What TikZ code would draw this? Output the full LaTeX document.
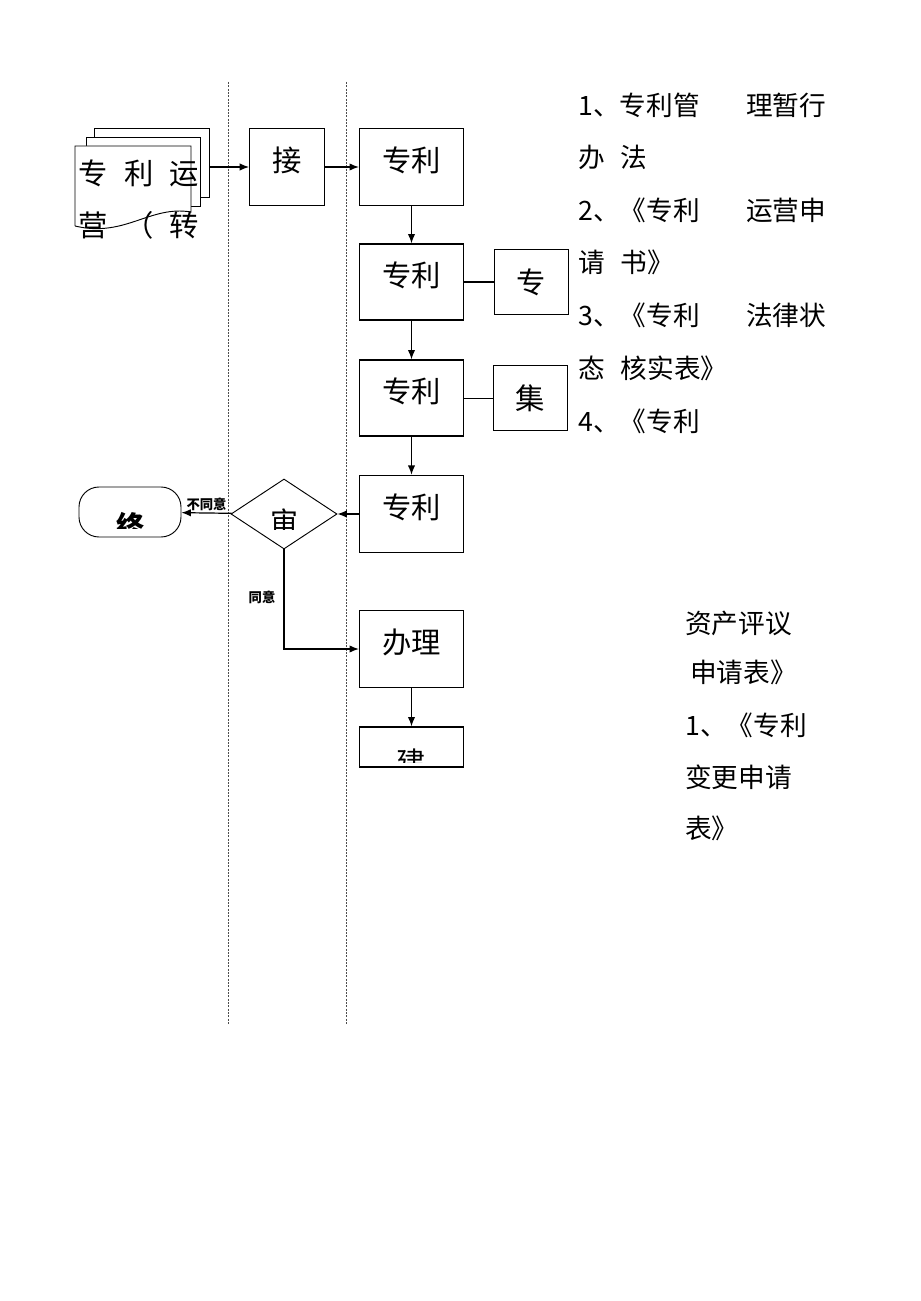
\documentclass[tikz,border=0pt]{standalone}
\usepackage{fontspec}
\newfontfamily\cjk{Noto Sans CJK SC}
\usetikzlibrary{arrows.meta}
\usetikzlibrary{shapes.geometric}

\tikzset{
  box/.style={draw, line width=0.9pt, minimum width=78pt, minimum height=58pt,
    text depth=12pt, font=\cjk\fontsize{22}{26}\selectfont},
  sidebox/.style={draw, line width=0.7pt, minimum width=56pt, minimum height=49pt,
    font=\cjk\fontsize{22}{26}\selectfont},
  note/.style={anchor=west, inner sep=0pt, font=\cjk\fontsize{20}{24}\selectfont},
  lane/.style={dash pattern=on 1.5pt off 1pt, line width=0.6pt, gray!60!black},
  sheet/.style={draw, fill=white, line width=0.7pt},
  tag/.style={font=\cjk\bfseries\fontsize{10}{12}\selectfont, inner sep=1pt},
  flow/.style={->, line width=0.9pt},
}

\begin{document}
\begin{tikzpicture}[x=0.75pt, y=-0.75pt, >={Latex[length=7pt,width=5.5pt]}]
  \useasboundingbox (0,0) rectangle (920,1301);

  % lanes
  \draw[lane] (228,82) -- (228,1025);
  \draw[lane] (346,82) -- (346,1025);

  % stacked documents
  \path[sheet] (94,128) rectangle (209,197);
  \path[sheet] (86,137) rectangle (200,206);
  \path[sheet] (75,226) -- (75,146) -- (191,146) -- (191,212)
    .. controls (150,205) and (125,238) .. (75,226);
  \node[font=\cjk\fontsize{22}{26}\selectfont] (doc1) at (139,173)
    {专\hspace{0.55em}利\hspace{0.55em}运};
  \node[font=\cjk\fontsize{22}{26}\selectfont] (doc2) at (139,225)
    {营\hspace{0.55em}（\hspace{0.55em}转};
  \coordinate (docout) at (209,167);

  % main column
  \node[box, minimum width=56pt] (jie) at (287,167) {接};
  \node[box] (a) at (411.5,167) {专利};
  \node[box, minimum height=57pt] (b) at (411.5,282) {专利};
  \node[box, minimum height=57pt] (c) at (411.5,398) {专利};
  \node[box] (d) at (411.5,514) {专利};
  \node[box] (e) at (411.5,649) {办理};
  \node[draw, line width=0.9pt, minimum width=78pt, minimum height=30pt] (f) at (411.5,747) {};

  \node[sidebox, minimum width=55.5pt] (s1) at (531,282) {专};
  \node[sidebox] (s2) at (530.5,398) {集};

  \node[draw, diamond, line width=0.7pt, minimum width=79.5pt, minimum height=52.5pt,
    inner sep=0pt] (shen) at (284,514) {};
  \node[draw, rounded corners=15pt, line width=0.7pt, minimum width=76.5pt,
    minimum height=37.5pt] (end) at (130,512) {};

  % clipped labels
  \begin{scope}
    \clip (100,495) rectangle (165,528);
    \node[font=\cjk\bfseries\fontsize{21}{24}\selectfont] (endtext) at (130,526) {终};
  \end{scope}
  \begin{scope}
    \clip (260,495) rectangle (310,529);
    \node[font=\cjk\fontsize{21}{24}\selectfont] (shentext) at (284,522) {审};
  \end{scope}
  \begin{scope}
    \clip (370,730) rectangle (455,762);
    \node[font=\cjk\fontsize{22}{26}\selectfont] (ftext) at (411.5,762) {建};
  \end{scope}

  % connectors
  \draw[flow] (docout) -- (jie);
  \draw[flow] (jie) -- (a);
  \draw[flow] (a) -- (b);
  \draw[flow] (b) -- (c);
  \draw[flow] (c) -- (d);
  \draw[line width=0.9pt] (b) -- (s1);
  \draw[line width=0.7pt] (c) -- (s2);
  \draw[flow] (d) -- (shen);
  \draw[flow] (shen) -- node[tag, above] (no) {不同意} (end);
  \draw[flow] (shen.south) |- node[tag, pos=0.24, left=5pt] (yes) {同意} (e.west);
  \draw[flow] (e) -- (f);

  % notes
  \node[note] (n1) at (578,105) {1、专利管};
  \node[note] (n1r) at (746,105) {理暂行};
  \node[note] (n2) at (578,157) {办\hspace{0.6em}法};
  \node[note] (n3) at (578,210) {2、《专利};
  \node[note] (n3r) at (746,210) {运营申};
  \node[note] (n4) at (578,262) {请\hspace{0.6em}书》};
  \node[note] (n5) at (578,315) {3、《专利};
  \node[note] (n5r) at (746,315) {法律状};
  \node[note] (n6) at (578,368) {态\hspace{0.6em}核实表》};
  \node[note] (n7) at (578,421) {4、《专利};

  \node[note] (m1) at (685,623) {资产评议};
  \node[note] (m2) at (690,672) {申请表》};
  \node[note] (m3) at (685,725) {1、《专利};
  \node[note] (m4) at (685,777) {变更申请};
  \node[note] (m5) at (685,828) {表》};
\end{tikzpicture}
\end{document}
